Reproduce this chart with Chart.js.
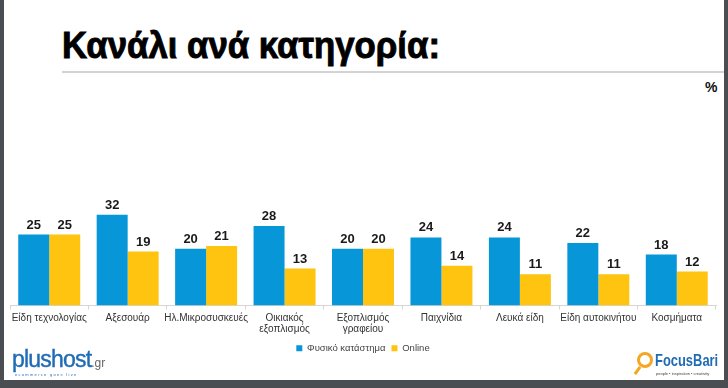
<!DOCTYPE html>
<html>
<head>
<meta charset="utf-8">
<script src="https://cdn.jsdelivr.net/npm/chart.js@4.4.1/dist/chart.umd.min.js"></script>
<style>
  html, body { margin: 0; padding: 0; }
  body { width: 728px; height: 388px; background: #4a4d51; position: relative; overflow: hidden; font-family: "Liberation Sans", Arial, sans-serif; }
  #slide { position: absolute; left: 4px; top: 0; width: 720px; height: 380px; background: #fff; }
  #title { position: absolute; left: 62px; top: 25px; font-weight: bold; font-size: 37px; color: #000; -webkit-text-stroke: 0.9px #000; white-space: nowrap; transform: scaleX(0.94); transform-origin: left top; }
  #rule { position: absolute; left: 62px; top: 71px; width: 662px; height: 2px; background: #d3d3d3; }
  #unit { position: absolute; left: 705px; top: 79px; font-weight: bold; font-size: 14px; color: #111; }
  #wrap { position: absolute; left: 0; top: 188px; width: 728px; height: 175px; }
  .logoL { position: absolute; left: 12px; top: 346px; color: #1f6cb5; font-size: 23px; letter-spacing: -0.8px; -webkit-text-stroke: 0.4px #1f6cb5; }
  .logoL small { font-size: 12px; color: #666; -webkit-text-stroke: 0; letter-spacing: 0; }
  .tagL { position: absolute; left: 15px; top: 372px; font-size: 4px; letter-spacing: 1.3px; color: #1f6cb5; }
  .lens { position: absolute; left: 637px; top: 352px; width: 10px; height: 10px; border: 3px solid #f5a623; border-radius: 50%; }
  .handle { position: absolute; left: 636px; top: 366px; width: 3px; height: 9px; background: #f5a623; transform: rotate(35deg); }
  .logoR { position: absolute; left: 655px; top: 351px; color: #1f6cb5; font-weight: bold; font-size: 17px; transform: scaleX(0.76); transform-origin: left top; }
  .tagR { position: absolute; left: 656px; top: 371px; font-size: 4px; color: #444; white-space: nowrap; }
</style>
</head>
<body>
<div id="slide"></div>
<div id="title">Κανάλι ανά κατηγορία:</div>
<div id="rule"></div>
<div id="unit">%</div>
<div id="wrap"><canvas id="chart"></canvas></div>
<div class="logoL">plushost<small>.gr</small></div>
<div class="tagL">ecommerce goes live</div>
<div class="lens"></div>
<div class="handle"></div>
<div class="logoR">FocusBari</div>
<div class="tagR">people • inspiration • creativity</div>
<script>
const categories = [
  "Είδη τεχνολογίας",
  "Αξεσουάρ",
  "Ηλ.Μικροσυσκευές",
  ["Οικιακός", "εξοπλισμός"],
  ["Εξοπλισμός", "γραφείου"],
  "Παιχνίδια",
  "Λευκά είδη",
  "Είδη αυτοκινήτου",
  "Κοσμήματα"
];
const seriesNames = ["Φυσικό κατάστημα", "Online"];
const physicalStore = [25, 32, 20, 28, 20, 24, 24, 22, 18];
const online = [25, 19, 21, 13, 20, 14, 11, 11, 12];

// draws the value above each bar
const valueLabels = {
  id: "valueLabels",
  afterDatasetsDraw(chart) {
    const ctx = chart.ctx;
    ctx.save();
    ctx.font = "bold 13px 'Liberation Sans', Arial, sans-serif";
    ctx.fillStyle = "#1a1a1a";
    ctx.textAlign = "center";
    ctx.textBaseline = "bottom";
    chart.data.datasets.forEach((ds, i) => {
      chart.getDatasetMeta(i).data.forEach((bar, j) => {
        ctx.fillText(ds.data[j], bar.x, bar.y - 3);
      });
    });
    ctx.restore();
  }
};

new Chart(document.getElementById("chart"), {
  type: "bar",
  data: {
    labels: categories,
    datasets: [
      { label: seriesNames[0], data: physicalStore, backgroundColor: "#0796d8" },
      { label: seriesNames[1], data: online, backgroundColor: "#fec410" }
    ]
  },
  options: {
    responsive: true,
    maintainAspectRatio: false,
    animation: false,
    layout: { padding: { left: 10, right: 12, top: 4, bottom: 0 } },
    plugins: {
      legend: {
        position: "bottom",
        labels: { boxWidth: 6, boxHeight: 6, padding: 6, color: "#444", font: { size: 9.5 } }
      },
      tooltip: { enabled: false }
    },
    datasets: { bar: { barPercentage: 1, categoryPercentage: 0.79 } },
    scales: {
      x: {
        grid: { drawOnChartArea: false, drawTicks: true, tickLength: 4, color: "#d6d6d6" },
        border: { color: "#d6d6d6" },
        ticks: { color: "#333", padding: 3, maxRotation: 0, autoSkip: false, font: { size: 10, lineHeight: 1.1 } }
      },
      y: { display: false, min: 0, max: 40 }
    }
  },
  plugins: [valueLabels]
});
</script>
</body>
</html>
